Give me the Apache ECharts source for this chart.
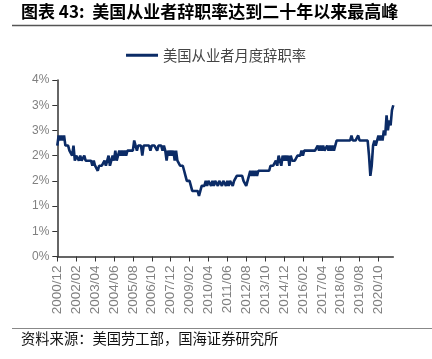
<!DOCTYPE html>
<html><head><meta charset="utf-8">
<script src="https://cdn.jsdelivr.net/npm/echarts@6/dist/echarts.min.js"></script>
<style>html,body{margin:0;padding:0;background:#fff}#c{width:432px;height:359px}</style>
</head><body><div id="c"></div>
<script>
// Monthly quits rate (%), 2000/12 .. 2021/09
var seriesName = '美国从业者月度辞职率';
var v2000 = [2.2];
var v2001 = [2.4, 2.3, 2.4, 2.3, 2.4, 2.2, 2.2, 2.2, 2.1, 2.1, 2.0, 2.2];
var v2002 = [1.9, 2.0, 2.0, 1.9, 2.0, 1.9, 1.9, 2.0, 1.9, 1.9, 1.9, 1.9];
var v2003 = [1.9, 1.8, 1.9, 1.8, 1.8, 1.7, 1.8, 1.8, 1.8, 1.8, 1.9, 1.8];
var v2004 = [1.9, 2.0, 1.8, 1.9, 2.0, 1.9, 2.1, 1.9, 2.0, 2.1, 2.0, 2.1];
var v2005 = [2.0, 2.1, 2.0, 2.1, 2.1, 2.1, 2.1, 2.1, 2.3, 2.2, 2.1, 2.2];
var v2006 = [2.2, 2.2, 2.0, 2.2, 2.2, 2.2, 2.2, 2.2, 2.1, 2.2, 2.2, 2.2];
var v2007 = [2.2, 2.1, 2.2, 2.2, 2.2, 2.1, 2.2, 2.1, 1.9, 2.1, 2.0, 2.1];
var v2008 = [2.0, 2.1, 1.9, 2.1, 1.9, 1.9, 1.8, 1.8, 1.8, 1.7, 1.6, 1.5];
var v2009 = [1.5, 1.5, 1.4, 1.3, 1.3, 1.3, 1.3, 1.3, 1.2, 1.3, 1.4, 1.4];
var v2010 = [1.4, 1.5, 1.4, 1.5, 1.5, 1.4, 1.5, 1.4, 1.5, 1.5, 1.4, 1.5];
var v2011 = [1.5, 1.4, 1.5, 1.5, 1.4, 1.5, 1.4, 1.5, 1.5, 1.4, 1.5, 1.5];
var v2012 = [1.6, 1.6, 1.6, 1.6, 1.6, 1.5, 1.5, 1.4, 1.5, 1.6, 1.7, 1.6];
var v2013 = [1.7, 1.6, 1.7, 1.6, 1.7, 1.7, 1.7, 1.7, 1.7, 1.7, 1.7, 1.7];
var v2014 = [1.7, 1.8, 1.8, 1.8, 1.8, 1.9, 1.8, 2.0, 1.9, 1.8, 2.0, 1.9];
var v2015 = [2.0, 1.9, 2.0, 1.8, 2.0, 1.9, 1.9, 1.9, 1.9, 2.0, 2.0, 2.0];
var v2016 = [2.1, 2.0, 2.1, 2.1, 2.1, 2.1, 2.1, 2.1, 2.1, 2.1, 2.1, 2.1];
var v2017 = [2.2, 2.1, 2.2, 2.1, 2.2, 2.1, 2.1, 2.2, 2.1, 2.2, 2.1, 2.2];
var v2018 = [2.1, 2.2, 2.3, 2.3, 2.3, 2.3, 2.3, 2.3, 2.3, 2.3, 2.3, 2.3];
var v2019 = [2.3, 2.4, 2.3, 2.3, 2.3, 2.3, 2.4, 2.3, 2.3, 2.3, 2.3, 2.3];
var v2020 = [2.3, 2.3, 2.0, 1.6, 1.8, 2.2, 2.3, 2.2, 2.3, 2.4, 2.3, 2.4];
var v2021 = [2.3, 2.5, 2.4, 2.8, 2.5, 2.7, 2.6, 2.9, 3.0];
var yTickLabels = ['0%', '1%', '1%', '2%', '2%', '3%', '3%', '4%'];
var startYear = 2000, startMonth = 12;

var values = [].concat(v2000, v2001, v2002, v2003, v2004, v2005, v2006, v2007, v2008, v2009,
  v2010, v2011, v2012, v2013, v2014, v2015, v2016, v2017, v2018, v2019, v2020, v2021);
var categories = [];
for (var i = 0; i < values.length; i++) {
  var m = startMonth - 1 + i;
  var y = startYear + Math.floor(m / 12);
  var mm = (m % 12) + 1;
  categories.push(y + '/' + (mm < 10 ? '0' + mm : mm));
}

var chart = echarts.init(document.getElementById('c'), null, {renderer: 'canvas'});
chart.setOption({
  animation: false,
  backgroundColor: '#fff',
  graphic: [
    {type: 'text', left: 21, top: 3, style: {text: '图表 43:  美国从业者辞职率达到二十年以来最高峰', font: 'bold 17px "Noto Sans CJK SC", sans-serif', fill: '#000'}},
    {type: 'line', shape: {x1: 12, y1: 25.5, x2: 432, y2: 25.5}, style: {stroke: '#555', lineWidth: 1.5}},
    {type: 'line', shape: {x1: 12, y1: 328.5, x2: 432, y2: 328.5}, style: {stroke: '#888', lineWidth: 1.2}},
    {type: 'text', left: 21, top: 331, style: {text: '资料来源：美国劳工部，国海证券研究所', font: '14.3px "Noto Sans CJK SC", serif', fill: '#111'}}
  ],
  legend: {
    top: 43, left: 'center',
    itemWidth: 32, itemHeight: 10, itemGap: 4,
    icon: 'path://M0,4 L32,4 L32,7 L0,7 Z',
    textStyle: {fontSize: 14.3, color: '#444', fontFamily: '"Noto Sans CJK SC", sans-serif'},
    data: [seriesName]
  },
  grid: {left: 57.3, right: 38.7, top: 80, bottom: 102.5, containLabel: false},
  xAxis: {
    type: 'category', data: categories, boundaryGap: false,
    axisLine: {lineStyle: {color: '#333', width: 1.5}},
    axisTick: {interval: 13, length: 5, lineStyle: {color: '#333'}},
    axisLabel: {interval: 13, rotate: 90, color: '#808080', fontSize: 13.5, fontFamily: 'Arial, "Liberation Sans", sans-serif', margin: 9},
    splitLine: {show: false}
  },
  yAxis: {
    type: 'value', min: 0, max: 3.5, interval: 0.5,
    axisLine: {show: true, lineStyle: {color: '#333', width: 1.5}},
    axisTick: {show: true, length: 5, lineStyle: {color: '#333'}},
    axisLabel: {color: '#808080', fontSize: 12, fontFamily: 'Arial, "Liberation Sans", sans-serif', margin: 8,
      formatter: function (v) { return yTickLabels[Math.round(v / 0.5)]; }},
    splitLine: {show: false}
  },
  series: [{
    name: seriesName, type: 'line', data: values, showSymbol: false, symbol: 'none',
    lineStyle: {color: '#0B2B66', width: 2.6}, itemStyle: {color: '#0B2B66'}
  }]
});
</script></body></html>
